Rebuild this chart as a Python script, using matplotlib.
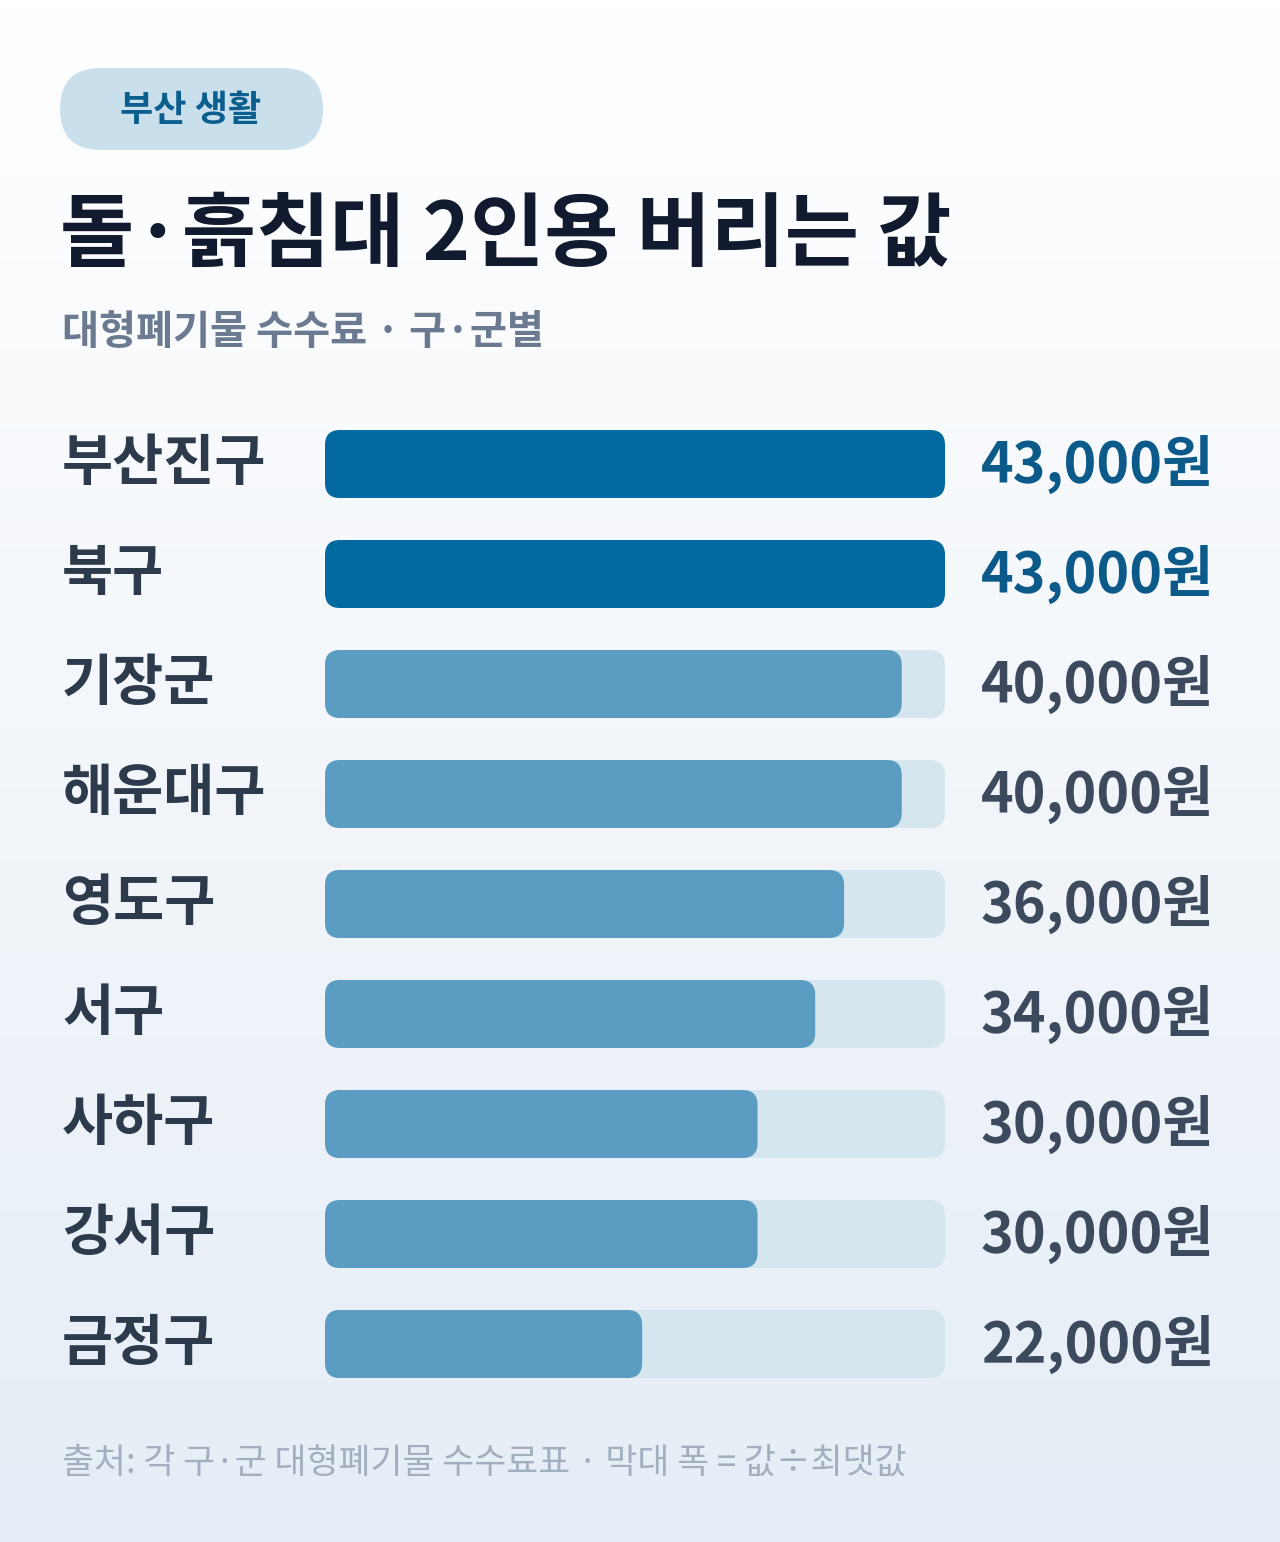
import matplotlib
matplotlib.use('Agg')
import matplotlib.pyplot as plt
from matplotlib.patches import FancyBboxPatch
import numpy as np

plt.rcParams['font.family'] = ['Noto Sans CJK KR', 'DejaVu Sans']

districts = ['부산진구', '북구', '기장군', '해운대구', '영도구', '서구', '사하구', '강서구', '금정구']
fees = [43000, 43000, 40000, 40000, 36000, 34000, 30000, 30000, 22000]

W, H = 1280, 1542
fig = plt.figure(figsize=(W / 100, H / 100), dpi=100)
ax = fig.add_axes([0, 0, 1, 1])
ax.set_xlim(0, W)
ax.set_ylim(H, 0)
ax.axis('off')

# 배경 그라데이션
top = np.array([1.0, 1.0, 1.0])
bot = np.array([0.90, 0.93, 0.965])
t = np.linspace(0, 1, 256)[:, None, None]
grad = top * (1 - t) + bot * t
ax.imshow(grad, extent=[0, W, H, 0], aspect='auto', zorder=0)

# 태그
ax.add_patch(FancyBboxPatch((60, 68), 263, 82, boxstyle='round,pad=0,rounding_size=41',
                            fc='#c9dfec', ec='none', zorder=1))
ax.text(191, 110, '부산 생활', fontsize=26, fontweight='bold', color='#0b5f8f',
        ha='center', va='center', zorder=2)

ax.text(60, 236, '돌·흙침대 2인용 버리는 값', fontsize=58, fontweight='bold',
        color='#111a2e', ha='left', va='center')
ax.text(62, 333, '대형폐기물 수수료 · 구·군별', fontsize=29, fontweight='bold',
        color='#6b7a90', ha='left', va='center')

x0, track_w, bar_h = 325, 620, 68
vmax = max(fees)
for i, (name, fee) in enumerate(zip(districts, fees)):
    yc = 464 + i * 110
    top_rank = fee == vmax
    ax.add_patch(FancyBboxPatch((x0, yc - bar_h / 2), track_w, bar_h,
                                boxstyle='round,pad=0,rounding_size=15',
                                fc='#d6e6ef', ec='none', zorder=1))
    ax.add_patch(FancyBboxPatch((x0, yc - bar_h / 2), track_w * fee / vmax, bar_h,
                                boxstyle='round,pad=0,rounding_size=15',
                                fc='#0369a1' if top_rank else '#5b9dc2', ec='none', zorder=2))
    ax.text(62, yc, name, fontsize=40, fontweight='bold', color='#2d3a4b',
            ha='left', va='center')
    ax.text(1214, yc, f'{fee:,}원', fontsize=40, fontweight='bold',
            color='#0b5a8a' if top_rank else '#3d4a5e', ha='right', va='center')

ax.text(62, 1463, '출처: 각 구·군 대형폐기물 수수료표 · 막대 폭 = 값÷최댓값', fontsize=25,
        color='#a3afbf', ha='left', va='center')

fig.savefig('out.png', dpi=100)
